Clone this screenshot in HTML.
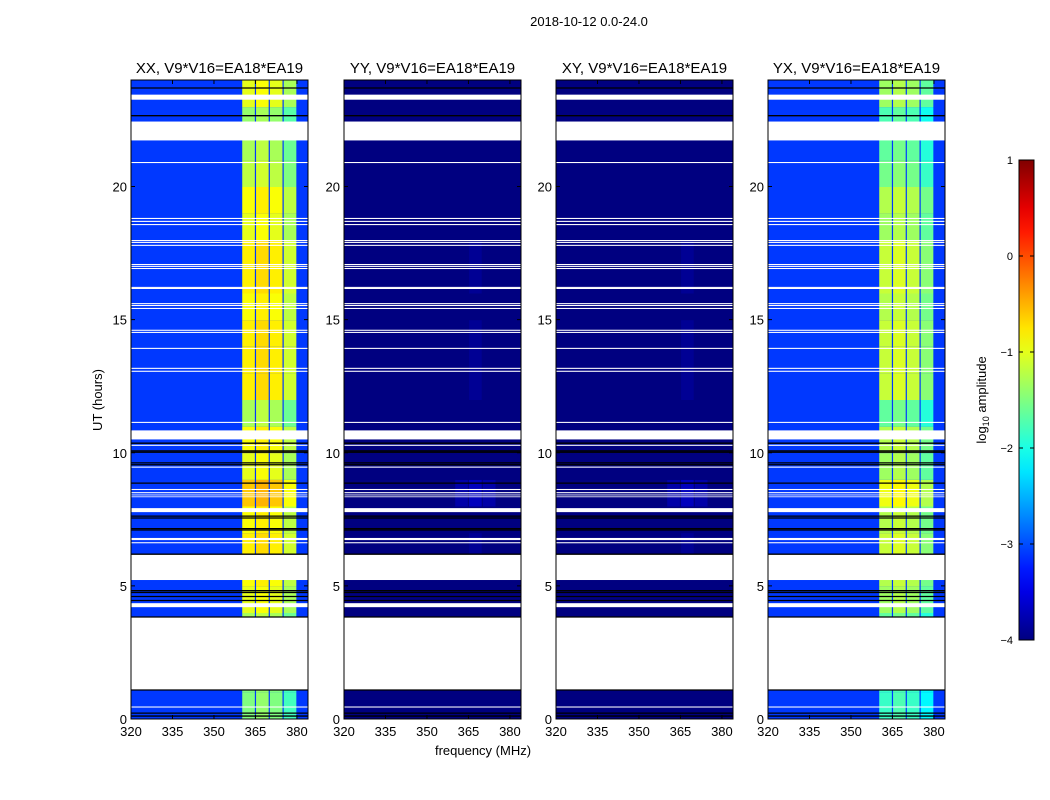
<!DOCTYPE html>
<html><head><meta charset="utf-8">
<style>
body{margin:0;background:#fff;}
svg{display:block;font-family:"Liberation Sans","DejaVu Sans",sans-serif;}
</style></head>
<body>
<svg id="fig" width="1050" height="800" viewBox="0 0 1050 800">
<text x="589" y="26" font-size="13" text-anchor="middle">2018-10-12 0.0-24.0</text>
<text x="483" y="755" font-size="13" text-anchor="middle">frequency (MHz)</text>
<text transform="translate(102,400) rotate(-90)" font-size="13" text-anchor="middle">UT (hours)</text>
<text transform="translate(986,400) rotate(-90)" font-size="13" text-anchor="middle">log<tspan font-size="9" dy="3">10</tspan><tspan dy="-3"> amplitude</tspan></text>
</svg>
<script>
// ---- data ----
const panelNames = ['XX, V9*V16=EA18*EA19','YY, V9*V16=EA18*EA19','XY, V9*V16=EA18*EA19','YX, V9*V16=EA18*EA19'];
const bgLevel = [-3.1, -4.0, -4.0, -3.1];
const bandOffset = [0, -3.2, -3.2, -0.35];
const hours = [0,1,2,3,4,5,6,7,8,9,10,11,12,13,14,15,16,17,18,19,20,21,22,23];
const bandXX = [-1.5,-1.5,-1.5,-1.3,-1.0,-0.9,-0.8,-0.9,-0.6,-1.0,-0.9,-1.3,-0.8,-0.8,-0.8,-0.9,-0.8,-0.8,-1.0,-0.9,-1.2,-1.3,-1.4,-1.0];
const subbandStart = [360,365,370,375];
const subbandOffset = [0.0,0.1,0.0,-0.3];
const flagStart = [1.09,4.20,5.22,6.60,6.72,7.77,8.33,8.40,8.48,8.60,9.44,10.26,10.50,11.12,13.04,13.15,13.90,14.50,14.58,15.40,15.51,15.58,16.15,16.19,16.90,16.98,17.05,17.77,17.88,17.95,18.55,18.67,18.78,19.34,20.88,21.73,23.26,0.43];
const flagEnd   = [3.83,4.35,6.19,6.64,6.80,7.92,8.36,8.43,8.52,8.64,9.48,10.30,10.84,11.16,13.08,13.19,13.94,14.54,14.62,15.44,15.55,15.62,16.19,16.23,16.94,17.02,17.09,17.81,17.92,17.99,18.59,18.71,18.82,19.34,20.92,22.44,23.45,0.47];
const blackLines = [0.11,0.22,1.09,3.83,4.45,4.6,4.75,4.82,6.19,7.1,7.15,7.55,7.62,8.86,9.55,9.62,10.02,10.07,10.36,22.66,23.7];
const xTicks = [320,335,350,365,380];
const yTicks = [0,5,10,15,20];
const cbTicks = [1,0,-1,-2,-3,-4];

// ---- geometry ----
const lefts=[131,344,556,768], W=177, TOP=80, BOT=719;
const F0=320,F1=384,H0=0,H1=24;
function xS(p,f){return lefts[p]+(f-F0)/(F1-F0)*W;}
function yS(h){return BOT-(h-H0)/(H1-H0)*(BOT-TOP);}
function jet(v){const t=Math.max(0,Math.min(1,(v+4)/5));const c=x=>Math.round(255*Math.max(0,Math.min(1,x)));
 return `rgb(${c(1.5-Math.abs(4*t-3))},${c(1.5-Math.abs(4*t-2))},${c(1.5-Math.abs(4*t-1))})`;}
const NS='http://www.w3.org/2000/svg', svg=document.getElementById('fig');
function mk(tag,attrs,parent){const e=document.createElementNS(NS,tag);for(const k in attrs)e.setAttribute(k,attrs[k]);(parent||svg).appendChild(e);return e;}

for(let p=0;p<4;p++){
 const g=mk('g',{});
 
 
 hours.forEach((h,i)=>{
  const y1=yS(h+1),y0=yS(h);
  const r=mk('rect',{x:xS(p,F0),y:y1,width:W,height:y0-y1+0.5,fill:jet(bgLevel[p])},g);
  
  
  subbandStart.forEach((s,k)=>{
   const v=bandXX[i]+subbandOffset[k]+bandOffset[p];
   const c=mk('rect',{x:xS(p,s)+0.6,y:y1,width:xS(p,s+5)-xS(p,s)-1.2,height:y0-y1+0.5,fill:jet(Math.max(v,bgLevel[p]))},g);
   
   
  });
 });
 flagStart.forEach((s,i)=>{
  const f=mk('rect',{x:xS(p,F0),y:yS(flagEnd[i]),width:W,height:yS(s)-yS(flagEnd[i]),fill:'#fff'},g);
  
  
 });
 blackLines.forEach(h=>{
  const l=mk('line',{x1:xS(p,F0),x2:xS(p,F1),y1:yS(h),y2:yS(h),stroke:'#000','stroke-width':1.3},g);
  
  
 });
 const fr=mk('rect',{x:lefts[p],y:TOP,width:W,height:BOT-TOP,fill:'none',stroke:'#000','stroke-width':1},g);
 
 
 const t=mk('text',{x:lefts[p]+W/2,y:73,'font-size':15,'text-anchor':'middle'},g);
 t.textContent=panelNames[p];
 
 
 xTicks.forEach(v=>{
  const x=xS(p,v);
  mk('line',{x1:x,x2:x,y1:BOT,y2:BOT-4,stroke:'#000'},g);
  mk('line',{x1:x,x2:x,y1:TOP,y2:TOP+4,stroke:'#000'},g);
  const tl=mk('text',{x:x,y:BOT+17,'font-size':13,'text-anchor':'middle'},g);
  tl.textContent=v;
  
  
 });
 yTicks.forEach(v=>{
  const y=yS(v);
  mk('line',{x1:lefts[p],x2:lefts[p]+4,y1:y,y2:y,stroke:'#000'},g);
  mk('line',{x1:lefts[p]+W,x2:lefts[p]+W-4,y1:y,y2:y,stroke:'#000'},g);
  const tl=mk('text',{x:lefts[p]-4,y:y+5,'font-size':13,'text-anchor':'end'},g);
  tl.textContent=v;
  
  
 });
}

// colorbar
const CBX=1019,CBW=15,CBT=160,CBB=640;
const defs=mk('defs',{});
const gr=mk('linearGradient',{id:'jetg',x1:0,y1:1,x2:0,y2:0},defs);
for(let i=0;i<=20;i++){mk('stop',{offset:i/20,'stop-color':jet(-4+5*i/20)},gr);}
const cb=mk('rect',{x:CBX,y:CBT,width:CBW,height:CBB-CBT,fill:'url(#jetg)',stroke:'#000'});


function cbY(v){return CBB-(v+4)/5*(CBB-CBT);}
cbTicks.forEach(v=>{
 const y=cbY(v);
 mk('line',{x1:CBX,x2:CBX+4,y1:y,y2:y,stroke:'#000'});
 mk('line',{x1:CBX+CBW,x2:CBX+CBW-4,y1:y,y2:y,stroke:'#000'});
 const tl=mk('text',{x:1013,y:y+4,'font-size':11,'text-anchor':'end'});
 tl.textContent=v<0?'\u2212'+Math.abs(v):String(v);
 
 
});
</script>
</body></html>
